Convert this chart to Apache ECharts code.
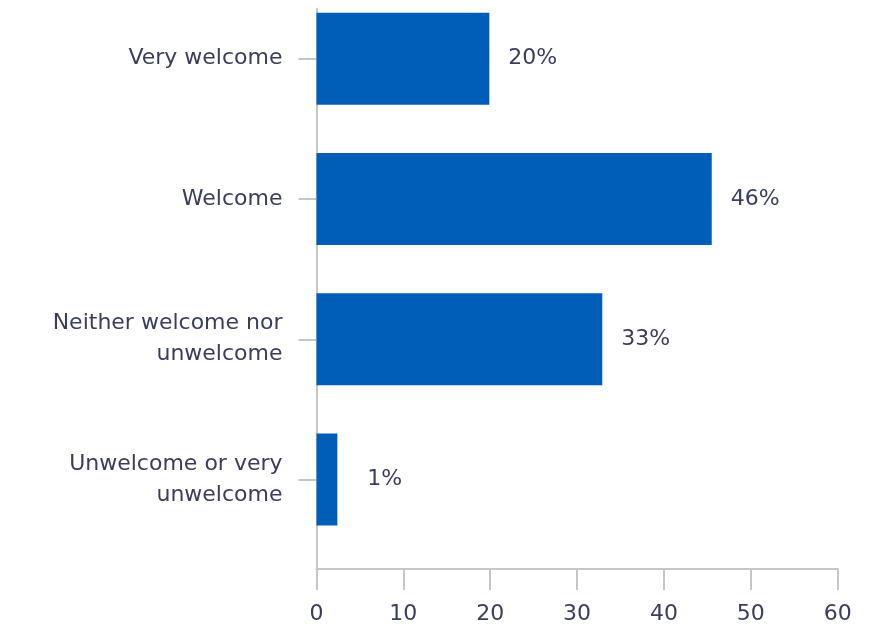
<!DOCTYPE html>
<html>
<head>
<meta charset="utf-8">
<script src="https://cdn.jsdelivr.net/npm/echarts@6/dist/echarts.min.js"></script>
<style>
html,body{margin:0;padding:0;background:#fff;}
#chart{width:881px;height:630px;}
</style>
</head>
<body>
<div id="chart"></div>
<script>
var categories = ['Very welcome', 'Welcome', 'Neither welcome nor\nunwelcome', 'Unwelcome or very\nunwelcome'];
var values = [19.9, 45.5, 32.9, 2.4];
var valueLabels = ['20%', '46%', '33%', '1%'];
var xTicks = [0, 10, 20, 30, 40, 50, 60];

var textColor = '#3b3d5e';
var axisColor = '#c6c6c6';
var barColor = '#005EB8';
var font = 'DejaVu Sans';

var chart = echarts.init(document.getElementById('chart'), null, {renderer: 'canvas'});
var gridLeft = 316.5, gridRight = 43.3;

var option = {
  animation: false,
  textStyle: {fontFamily: font},
  grid: [
    {left: gridLeft, right: gridRight, top: -11.5, height: 561.2, containLabel: false, outerBoundsMode: 'none'},
    {left: gridLeft, right: gridRight, top: 9, height: 560, containLabel: false, outerBoundsMode: 'none'}
  ],
  xAxis: [
    {gridIndex: 0, type: 'value', min: xTicks[0], max: xTicks[xTicks.length - 1], interval: 10, show: false},
    {gridIndex: 1, type: 'value', min: xTicks[0], max: xTicks[xTicks.length - 1], interval: 10,
      axisLine: {show: true, lineStyle: {color: axisColor, width: 2}},
      axisTick: {show: true, length: 21, lineStyle: {color: axisColor, width: 2}},
      axisLabel: {margin: 34, color: textColor, fontSize: 22, fontFamily: font},
      splitLine: {show: false}
    }
  ],
  yAxis: [
    {gridIndex: 0, type: 'category', inverse: true, data: categories,
      axisLine: {show: false},
      axisTick: {show: true, alignWithLabel: true, length: 18, lineStyle: {color: axisColor, width: 2}},
      axisLabel: {margin: 34, color: textColor, fontSize: 22, lineHeight: 31, fontFamily: font, align: 'right'},
      splitLine: {show: false}
    },
    {gridIndex: 1, type: 'value', min: 0, max: 1,
      axisLine: {show: true, lineStyle: {color: axisColor, width: 2}},
      axisTick: {show: false}, axisLabel: {show: false}, splitLine: {show: false}
    }
  ],
  series: [{
    type: 'bar',
    xAxisIndex: 0, yAxisIndex: 0,
    barWidth: 92,
    z: 5,
    itemStyle: {color: barColor},
    label: {
      show: true, position: 'right', distance: 19,
      color: textColor, fontSize: 22, fontFamily: font,
      formatter: function (p) { return valueLabels[p.dataIndex]; }
    },
    data: values.map(function (v, i) {
      return i === values.length - 1 ? {value: v, label: {distance: 30}} : v;
    })
  }]
};
chart.setOption(option);
</script>
</body>
</html>
